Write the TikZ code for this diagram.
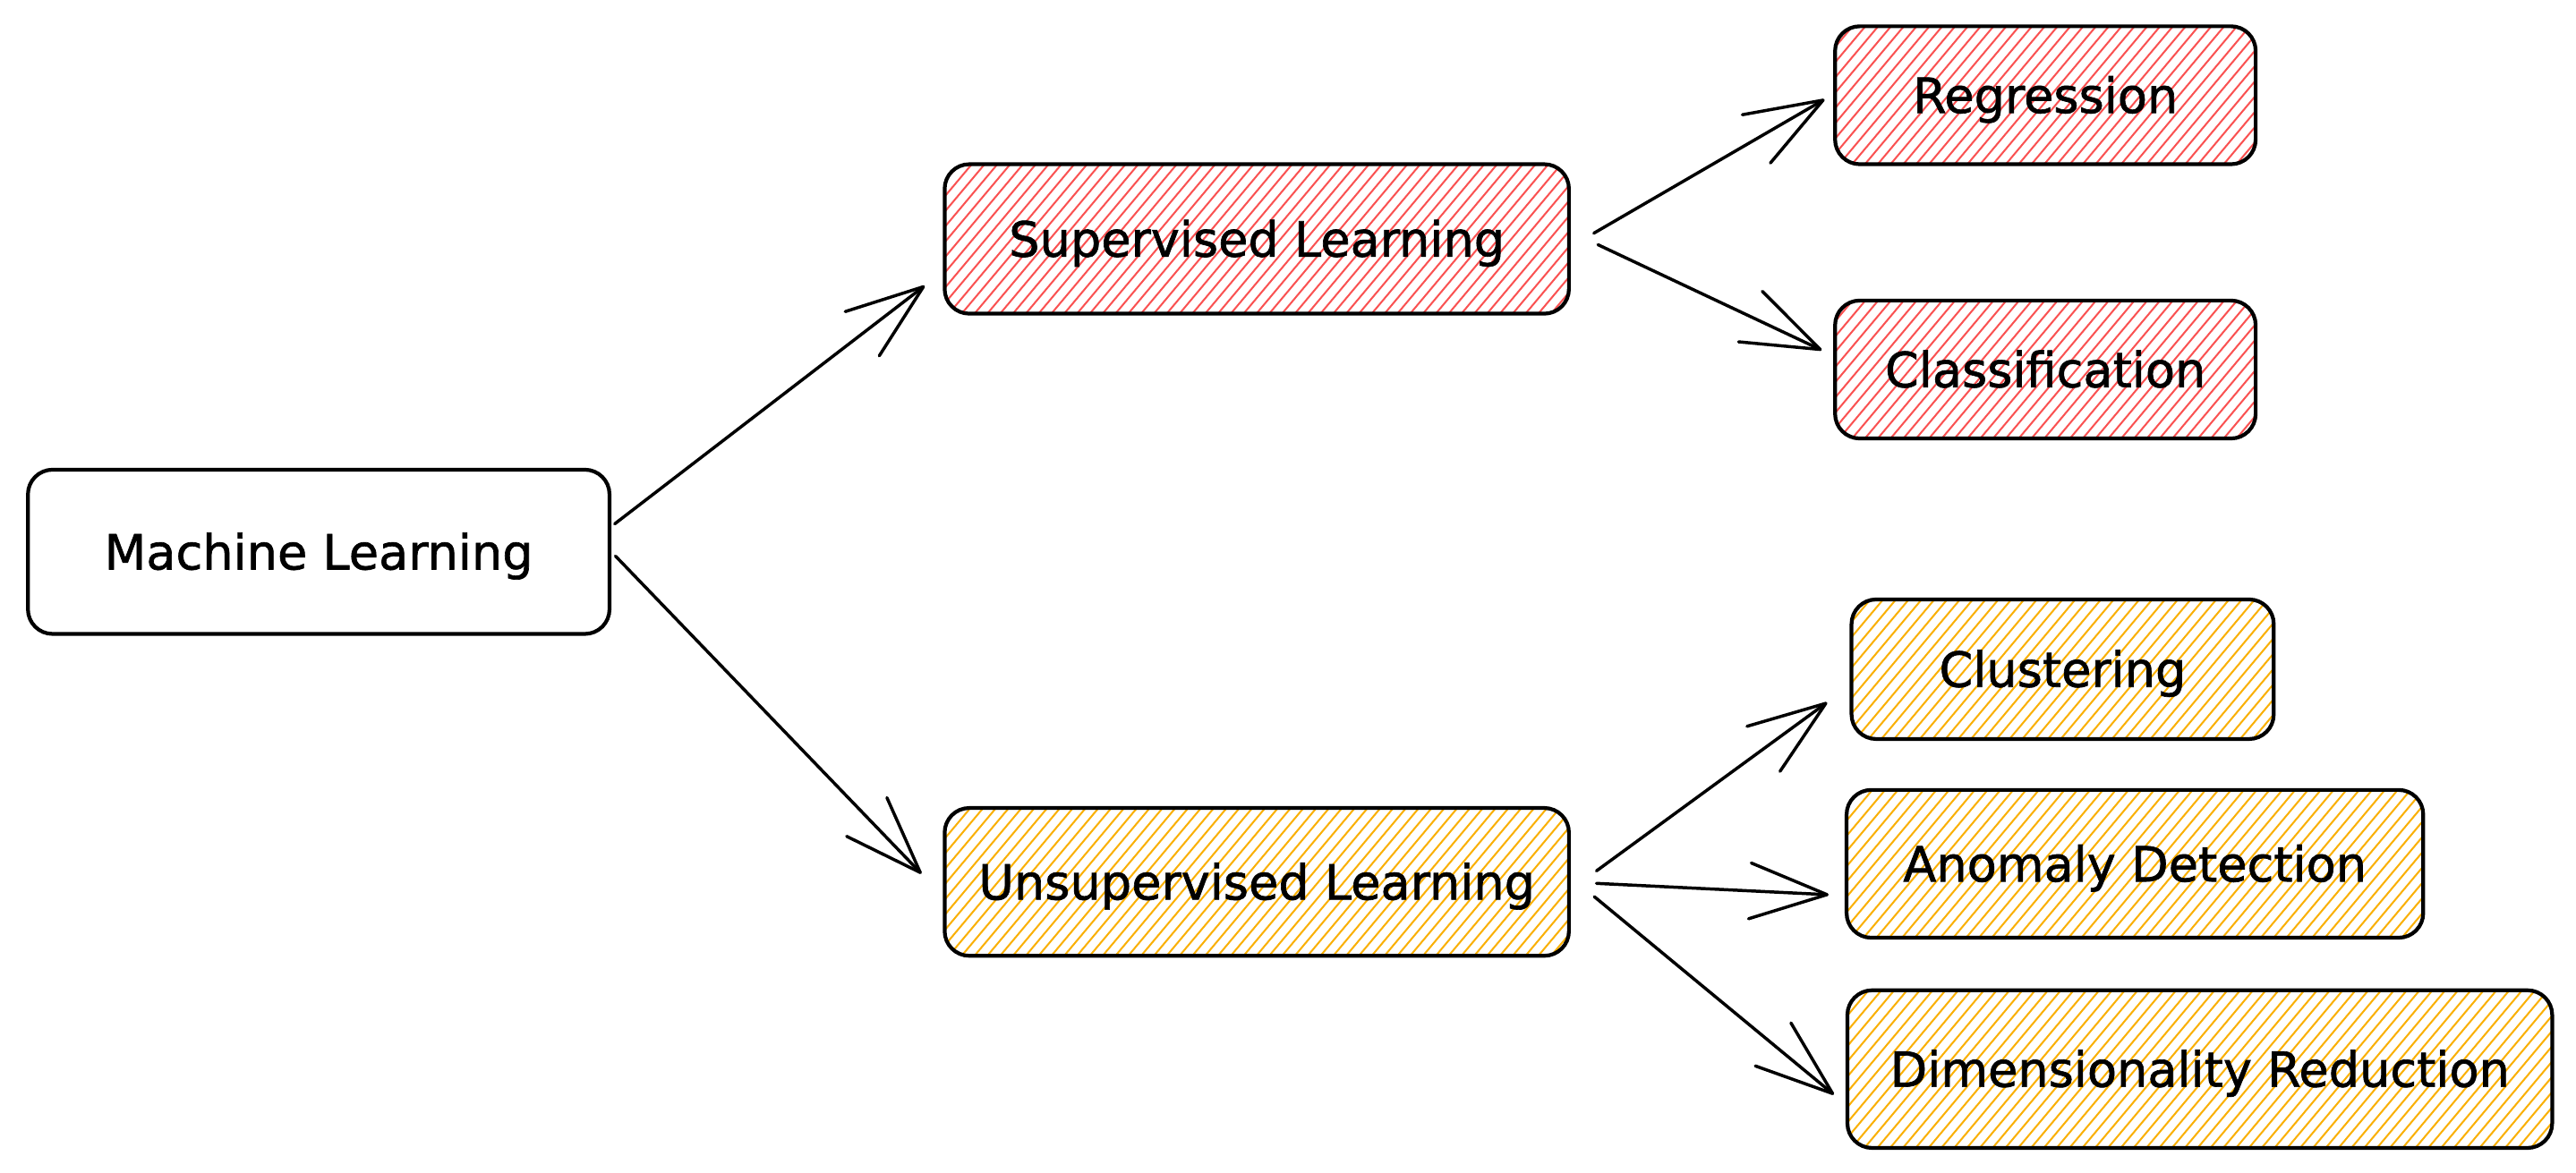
\documentclass[tikz,border=0pt]{standalone}
\usepackage{fontspec}
\newfontfamily\hand[FakeBold=1.2]{DejaVu Sans}
\usetikzlibrary{arrows.meta,calc}
\definecolor{hatchred}{HTML}{FA5252}
\definecolor{hatchyellow}{HTML}{FAB005}
\begin{document}
\begin{tikzpicture}[x=1pt,y=-1pt,
  box/.style={draw=black, line width=2.3pt, rounded corners=15pt, inner sep=0pt,
    text height=21.5pt, text depth=0pt, font=\hand\fontsize{29.5}{35}\selectfont},
  hatchbox/.style={box, path picture={
    \foreach \k in {-110,-102.2,...,450}
      \draw[#1, line width=1.1pt]
        ($(path picture bounding box.south west)+(\k,4)$) -- ++(-50:150);}},
  redbox/.style={hatchbox=hatchred},
  yelbox/.style={hatchbox=hatchyellow},
  conn/.style={line width=1.9pt, line cap=round, line join=round,
    -{Straight Barb[length=47pt,width=34pt,round]}}]
\fill[white] (0,0) rectangle (1568,714);
\useasboundingbox (0,0) rectangle (1568,714);

\node[box, minimum width=354pt, minimum height=100pt] (ml) at (194,336) {Machine Learning};
\node[redbox, minimum width=380pt, minimum height=91pt] (sl) at (765,145.5) {Supervised Learning};
\node[yelbox, minimum width=380pt, minimum height=90pt] (ul) at (765,537) {Unsupervised Learning};
\node[redbox, minimum width=256pt, minimum height=84pt] (reg) at (1245,58) {Regression};
\node[redbox, minimum width=256pt, minimum height=84pt] (cls) at (1245,225) {Classification};
\node[yelbox, minimum width=257pt, minimum height=85pt] (clu) at (1255.5,407.5) {Clustering};
\node[yelbox, minimum width=351pt, minimum height=90pt] (ad) at (1299.5,526) {Anomaly Detection};
\node[yelbox, minimum width=429pt, minimum height=96pt] (dr) at (1339,651) {Dimensionality Reduction};

\draw[conn] ($(ml.east)+(2,-17)$) -- ($(sl.west)+(-11,28.5)$);
\draw[conn] ($(ml.east)+(2.5,2.6)$) -- ($(ul.west)+(-13,-5)$);
\draw[conn] ($(sl.east)+(14,-3.5)$) -- ($(reg.west)+(-5.3,2.5)$);
\draw[conn] ($(sl.east)+(16.5,3.5)$) -- ($(cls.west)+(-7,-11.8)$);
\draw[conn] ($(ul.east)+(15.6,-6.7)$) -- ($(clu.west)+(-13.7,20.2)$);
\draw[conn] ($(ul.east)+(15.6,0.9)$) -- ($(ad.west)+(-9.8,18.8)$);
\draw[conn] ($(ul.east)+(14.3,9)$) -- ($(dr.west)+(-7.1,15.5)$);
\end{tikzpicture}
\end{document}
